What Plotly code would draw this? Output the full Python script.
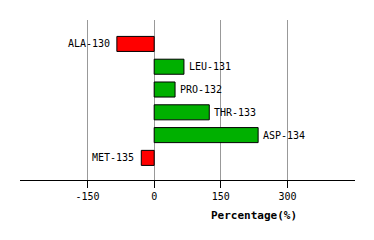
import plotly.graph_objects as go

residues = ["ALA-130", "LEU-131", "PRO-132", "THR-133", "ASP-134", "MET-135"]
values = [-84, 67, 47, 124, 234, -29]
tick_vals = [-150, 0, 150, 300]

colors = ["#FF0000" if v < 0 else "#00B000" for v in values]
ys = list(range(len(residues)))

fig = go.Figure()
fig.add_trace(go.Bar(
    x=values, y=ys, orientation="h",
    marker=dict(color=colors, line=dict(color="black", width=1)),
    width=0.66,
    hoverinfo="skip",
))

annotations = []
for name, v, y in zip(residues, values, ys):
    annotations.append(dict(
        text=name, x=v, y=y, xref="x", yref="y",
        xanchor="left" if v >= 0 else "right", yanchor="middle",
        xshift=3 if v >= 0 else -5, showarrow=False,
        font=dict(family="DejaVu Sans Mono", size=10, color="black"),
    ))
annotations.append(dict(
    text="<b>Percentage(%)</b>", xref="paper", yref="paper",
    x=(254 - 20) / 335, y=-(215 - 180) / 160, xanchor="center", yanchor="middle",
    showarrow=False, font=dict(family="DejaVu Sans Mono", size=11, color="black"),
))

fig.update_layout(
    width=374, height=240,
    margin=dict(l=20, r=19, t=20, b=60),
    paper_bgcolor="white", plot_bgcolor="white",
    showlegend=False,
    font=dict(family="DejaVu Sans Mono", size=10, color="black"),
    xaxis=dict(
        range=[-302, 452], tickvals=tick_vals, ticktext=[str(t) for t in tick_vals],
        showgrid=True, gridcolor="#999999", gridwidth=1,
        zeroline=False, showline=True, linecolor="black", linewidth=1,
        ticks="outside", ticklen=7, tickcolor="black",
        tickfont=dict(family="DejaVu Sans Mono", size=10, color="black"),
    ),
    yaxis=dict(
        range=[5.97, -1.05], showticklabels=False, showgrid=False,
        zeroline=False, showline=False, ticks="",
    ),
    annotations=annotations,
)

fig.write_html("out.html")
